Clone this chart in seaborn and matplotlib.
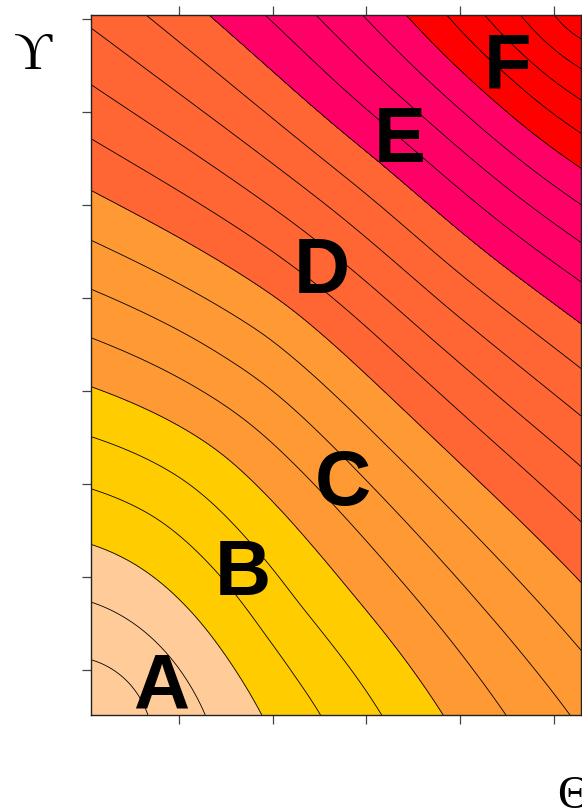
import numpy as np
import matplotlib
matplotlib.use("Agg")
import matplotlib.pyplot as plt
import seaborn as sns

# ---- contour bands ----
band_labels = ["A", "B", "C", "D", "E", "F"]
band_colors = ["#FFCC99", "#FFCC00", "#FF9933", "#FF6633", "#FF0066", "#FF0000"]
band_edges = [-1, 3, 6, 10, 15, 19, 30]
line_levels = list(range(1, 24))

# label anchor points (baseline centre) in axis units
label_x = [0.81, 1.68, 2.75, 2.52, 3.35, 4.51]
label_y = [0.59, 1.81, 2.77, 5.05, 6.46, 7.25]

# axis window and ticks
x_limits = (0.061, 5.29)
y_limits = (0.516, 8.043)
x_ticks = [1, 2, 3, 4, 5]
y_ticks = [1, 2, 3, 4, 5, 6, 7, 8]

# ---- surface samples: where each level line meets the frame ----
left_levels = list(range(1, 14))
left_y = [1.108, 1.731, 2.344, 2.946, 3.505, 4.043, 4.570, 5.086, 5.613,
          6.140, 6.699, 7.269, 7.892]
bottom_levels = list(range(1, 9))
bottom_x = [0.669, 1.309, 1.938, 2.557, 3.175, 3.805, 4.477, 5.170]
top_levels = list(range(14, 24))
top_x = [0.647, 1.319, 1.927, 2.482, 2.962, 3.431, 3.858, 4.242, 4.615, 4.978]
right_levels = list(range(9, 24))
right_y = [1.194, 1.946, 2.591, 3.204, 3.742, 4.247, 4.742, 5.194, 5.591,
           6.000, 6.398, 6.753, 7.161, 7.452, 7.774]

# surface value at the four corners (bl, tl, tr, br)
corner_level = [0.0, 13.15, 23.9, 8.12]

# points traced along level lines inside the frame
inner_x = [0.541, 0.829, 0.989,
           0.775, 1.447, 1.906, 2.194,
           1.074, 1.661, 2.194,
           0.413, 1.479, 2.194, 2.610, 3.143,
           1.415, 2.194, 3.143, 3.858,
           1.479, 2.120, 3.143, 4.210,
           1.981, 3.143, 4.210,
           2.194, 3.282, 4.210,
           2.728, 3.858,
           2.728, 3.890, 4.424,
           2.728, 3.890, 5.063,
           2.728, 3.175, 3.890,
           2.728, 3.175, 3.890,
           2.728, 2.610,
           4.029, 4.743, 4.584, 4.776]
inner_y = [0.753, 1.215, 1.753,
           2.688, 2.043, 1.323, 0.860,
           3.065, 2.398, 1.677,
           3.903, 3.366, 2.634, 2.161, 1.484,
           3.903, 3.226, 2.237, 1.398,
           4.280, 3.903, 2.882, 1.677,
           4.677, 3.473, 2.398,
           4.892, 3.903, 3.011,
           4.925, 3.903,
           5.366, 4.409, 3.903,
           5.892, 4.839, 3.903,
           6.323, 5.978, 5.333,
           6.785, 6.462, 5.806,
           7.237, 7.882,
           7.430, 6.785, 7.398, 7.591]
inner_level = [1, 2, 3,
               4, 4, 4, 4,
               5, 5, 5,
               6, 6, 6, 6, 6,
               7, 7, 7, 7,
               8, 8, 8, 8,
               9, 9, 9,
               10, 10, 10,
               11, 11,
               12, 12, 12,
               13, 13, 13,
               14, 14, 14,
               15, 15, 15,
               16, 17,
               19, 19, 20, 21]


def collect_samples():
    x0, x1 = x_limits
    y0, y1 = y_limits
    xs = ([x0] * len(left_y) + bottom_x + top_x + [x1] * len(right_y)
          + [x0, x0, x1, x1] + inner_x)
    ys = (left_y + [y0] * len(bottom_x) + [y1] * len(top_x) + right_y
          + [y0, y1, y1, y0] + inner_y)
    zs = (left_levels + bottom_levels + top_levels + right_levels
          + corner_level + inner_level)
    return np.array(xs, float), np.array(ys, float), np.array(zs, float)


def trend_terms(x, y):
    """Low-order trend: quadratic plus distances from the two far corners."""
    r_low = np.hypot(x - x_limits[0], y - y_limits[0])
    r_high = np.hypot(x - x_limits[1], y - y_limits[1])
    return np.column_stack([np.ones_like(x), x, y, x * x, x * y, y * y,
                            r_low, r_high])


def smooth_surface(xs, ys, zs, gx, gy, smooth=2.5):
    """Smoothing thin-plate spline through scattered samples, on a grid."""
    pts = np.column_stack([xs, ys])
    n = len(xs)

    def kernel(r):
        with np.errstate(divide="ignore", invalid="ignore"):
            k = r ** 2 * np.log(r)
        return np.nan_to_num(k)

    d = np.linalg.norm(pts[:, None, :] - pts[None, :, :], axis=-1)
    P = trend_terms(xs, ys)
    m = P.shape[1]
    A = np.zeros((n + m, n + m))
    A[:n, :n] = kernel(d) + smooth * np.eye(n)
    A[:n, n:] = P
    A[n:, :n] = P.T
    b = np.concatenate([zs, np.zeros(m)])
    coef = np.linalg.solve(A, b)
    w, a = coef[:n], coef[n:]

    g = np.column_stack([gx.ravel(), gy.ravel()])
    dg = np.linalg.norm(g[:, None, :] - pts[None, :, :], axis=-1)
    zg = kernel(dg) @ w + trend_terms(g[:, 0], g[:, 1]) @ a
    return zg.reshape(gx.shape)


sns.set_style("white")
plt.rcParams["font.family"] = ["Liberation Sans", "DejaVu Sans"]

W, H = 582, 809
fig = plt.figure(figsize=(W / 100, H / 100), dpi=100)
ax = fig.add_axes([91 / W, (809 - 715) / H, (581 - 91) / W, (715 - 15) / H])

sx, sy, sz = collect_samples()
gx, gy = np.meshgrid(np.linspace(x_limits[0], x_limits[1], 260),
                     np.linspace(y_limits[0], y_limits[1], 380))
gz = smooth_surface(sx, sy, sz, gx, gy)

palette = sns.color_palette(band_colors)
ax.contourf(gx, gy, gz, levels=band_edges, colors=palette)
ax.contour(gx, gy, gz, levels=line_levels, colors="black", linewidths=0.6)

for lab, lx, ly in zip(band_labels, label_x, label_y):
    ax.text(lx, ly, lab, ha="center", va="baseline", fontsize=56,
            fontweight="bold", color="black")

ax.set_xlim(*x_limits)
ax.set_ylim(*y_limits)
ax.set_xticks(x_ticks)
ax.set_yticks(y_ticks)
ax.tick_params(direction="out", length=6.5, width=0.9, color="#444444",
               top=True, bottom=True, left=True, right=False,
               labelbottom=False, labeltop=False, labelleft=False)
for sp in ax.spines.values():
    sp.set_color("#222222")
    sp.set_linewidth(1.0)

fig.text(33 / W, 1 - 56 / H, "\u03d2", ha="center", va="center", fontsize=38,
         color="black", family=["Liberation Serif", "DejaVu Serif"])
fig.text(557 / W, 1 - 776 / H, "\u0398", ha="left", va="top", fontsize=34,
         color="black", family=["Liberation Serif", "DejaVu Serif"])

fig.savefig("out.png", dpi=100)
